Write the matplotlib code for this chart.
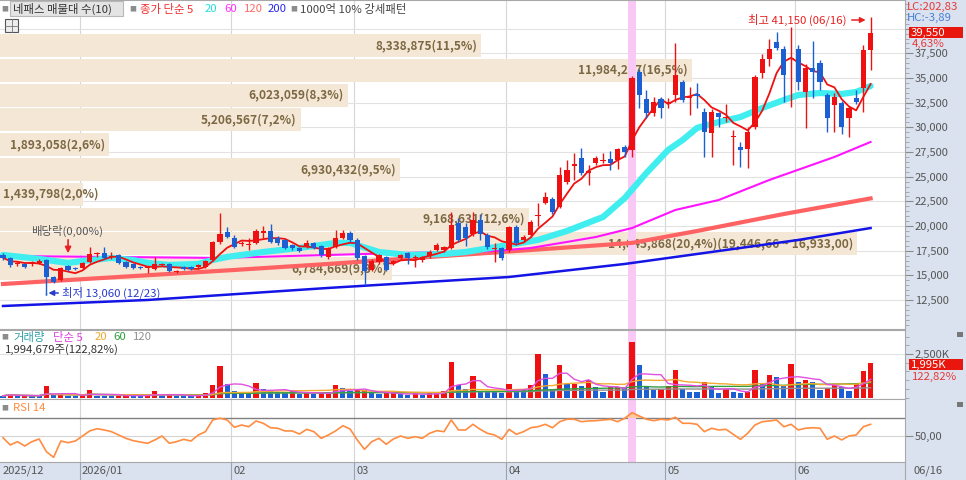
import numpy as np
import pandas as pd
import matplotlib
matplotlib.use('Agg')
import matplotlib.pyplot as plt
from matplotlib.patches import Rectangle
from matplotlib.lines import Line2D
from matplotlib.ticker import FuncFormatter, MultipleLocator

plt.rcParams['font.family'] = ['Noto Sans CJK KR', 'DejaVu Sans']

### Data ###

opens = [17100, 16770, 16150, 16150, 16150, 16300, 16560, 14840, 14540, 15950,
         15750, 15750, 16350, 17170, 17270, 16870, 17070, 16360, 16160, 15850,
         15750, 15650, 16050, 16150, 15350, 15850, 15850, 15850, 15850, 16560,
         18390, 19400, 18790, 18190, 18090, 18300, 19300, 19500, 18790, 18590,
         18090, 17780, 17980, 18290, 17980, 16870, 17880, 18790, 19300, 18590,
         16970, 15550, 16360, 16870, 16260, 16770, 17270, 16770, 16560, 16970,
         17580, 17580, 17780, 20310, 19900, 19200, 20610, 19100, 17680, 17780,
         17580, 19900, 18590, 19100, 21000, 22340, 22740, 21930, 24470, 26100,
         26900, 25380, 26400, 26590, 26800, 26700, 28000, 27700, 35600, 32870,
         31460, 32870, 32370, 33280, 34590, 32970, 33380, 31560, 29430, 31460,
         30950, 29020, 28010, 27810, 30040, 35510, 36920, 38650, 37940, 36900,
         37940, 33580, 36010, 36520, 33280, 32260, 32470, 30950, 32970, 33990,
         37800]
highs = [17300, 16900, 16500, 16250, 16500, 16700, 16700, 14950, 15850, 16100,
         15850, 16350, 17880, 17400, 17900, 17370, 17200, 16500, 16260, 15950,
         15950, 16870, 16300, 16250, 15550, 15950, 15950, 16200, 16600, 18500,
         21330, 19900, 19100, 18500, 18790, 19700, 20000, 20200, 19000, 18700,
         18200, 17900, 18600, 18400, 18100, 17900, 19600, 19600, 19500, 18800,
         17100, 16700, 17200, 17000, 16600, 17200, 17400, 17100, 17000, 17600,
         18300, 18000, 21430, 20800, 20300, 21400, 21200, 19300, 18290, 17900,
         20000, 20100, 19100, 20600, 22300, 23400, 22900, 25980, 26700, 27400,
         27900, 26200, 27100, 27400, 27600, 27900, 28200, 35200, 35900, 33800,
         33100, 33100, 33000, 38550, 34800, 34090, 34500, 32000, 31900, 31600,
         32400, 29730, 28500, 30000, 35300, 37400, 38950, 39660, 38200, 40170,
         38300, 36400, 38700, 36800, 33500, 33500, 32700, 32200, 33800, 38300,
         41150]
lows = [16600, 15900, 16000, 15700, 16000, 16200, 13060, 14200, 14400, 15400,
        15550, 15650, 16250, 16900, 16700, 16700, 16150, 15750, 15650, 15600,
        15200, 15550, 15950, 15350, 15250, 15550, 15550, 15750, 15750, 16450,
        18200, 18800, 17780, 18000, 17580, 18200, 18800, 18300, 18100, 17700,
        17600, 17380, 17800, 17700, 16900, 16700, 17780, 18700, 18400, 16600,
        14030, 15400, 16200, 15400, 16100, 16600, 16200, 15900, 16400, 16800,
        17450, 17400, 17700, 18400, 18000, 19000, 18600, 17700, 16360, 16600,
        17400, 18100, 18400, 18900, 20000, 22200, 21200, 21800, 24300, 24700,
        25200, 24200, 26200, 26400, 25700, 25800, 27000, 27000, 32000, 30900,
        31200, 30900, 32000, 32600, 32600, 31250, 32000, 27000, 27000, 30000,
        30500, 26190, 25980, 25900, 29800, 35000, 36200, 37800, 32600, 32060,
        33790, 29930, 33000, 33800, 29500, 29500, 29300, 29000, 32400, 31600,
        35810]
closes = [16800, 16060, 16300, 15850, 16350, 16450, 14840, 14330, 15750, 15550,
          15650, 16250, 17170, 17270, 16770, 16970, 16260, 15850, 15750, 15700,
          15850, 16150, 16150, 15450, 15450, 15650, 15650, 16060, 16460, 18390,
          19200, 18900, 17880, 18290, 18190, 19500, 19500, 18400, 18290, 17780,
          17780, 17480, 18290, 17780, 17070, 17780, 18790, 19300, 18590, 16770,
          15450, 16460, 17070, 15550, 16460, 17070, 16770, 16870, 16870, 17370,
          18090, 17880, 20110, 18590, 18790, 20610, 19200, 17880, 17780, 16770,
          19900, 18290, 18890, 20410, 21130, 22950, 21430, 25170, 25680, 26290,
          25380, 25580, 26900, 26700, 26390, 27800, 27500, 35000, 33280, 31460,
          32570, 31960, 32570, 35300, 32770, 33080, 33180, 29530, 31560, 31050,
          31050, 29120, 27710, 29530, 35100, 36920, 37940, 38040, 35300, 37020,
          34590, 36010, 35610, 34590, 30950, 33080, 30040, 31960, 32570, 37800,
          39550]

# volume, thousand shares
volumes = [110, 210, 95, 100, 95, 90, 663, 130, 160, 114,
           110, 150, 435, 120, 110, 100, 120, 150, 110, 100,
           115, 380, 120, 130, 110, 100, 95, 120, 280, 719,
           1800, 757, 380, 200, 190, 850, 490, 380, 300, 290,
           435, 200, 250, 240, 260, 270, 719, 530, 380, 420,
           430, 246, 200, 246, 250, 208, 151, 246, 151, 246,
           284, 379, 2045, 719, 492, 1250, 360, 345, 330, 246,
           757, 473, 435, 719, 2518, 1382, 492, 1855, 776, 790,
           663, 1041, 587, 303, 587, 600, 530, 3180, 1893, 587,
           435, 492, 663, 1571, 492, 341, 303, 871, 625, 246,
           473, 341, 246, 341, 1609, 814, 1325, 1193, 663, 1912,
           909, 1041, 871, 435, 530, 719, 587, 398, 776, 1514,
           1995]

rsi14 = [48.1, 40.0, 43.7, 38.9, 43.7, 46.7, 32.6, 26.3, 44.4, 42.6,
         44.4, 50.0, 55.6, 58.1, 56.7, 54.8, 51.1, 47.4, 44.8, 43.3,
         41.9, 45.6, 50.0, 41.9, 43.7, 46.3, 44.4, 51.1, 54.8, 67.8,
         69.7, 67.8, 59.7, 62.2, 60.3, 66.7, 64.1, 59.2, 58.6, 55.6,
         55.6, 52.2, 57.4, 54.8, 47.4, 51.1, 55.6, 61.4, 57.8, 45.6,
         35.2, 43.7, 47.4, 40.8, 46.7, 50.0, 47.4, 49.2, 47.4, 53.0,
         55.9, 54.8, 67.8, 56.7, 56.7, 63.0, 57.4, 53.0, 51.1, 46.3,
         57.4, 51.9, 54.8, 59.2, 60.3, 63.0, 59.2, 65.9, 68.6, 68.6,
         65.9, 66.7, 67.0, 67.8, 68.6, 65.9, 69.7, 75.9, 72.2, 68.6,
         67.0, 68.6, 67.8, 70.8, 64.1, 64.1, 63.0, 54.8, 58.6, 56.7,
         57.4, 51.9, 46.3, 53.0, 62.2, 65.9, 66.7, 67.8, 60.3, 63.0,
         56.7, 58.6, 59.2, 58.6, 46.3, 50.0, 45.6, 50.0, 51.1, 60.3,
         63.0]

# longer moving averages read at points along the lines (candle index, price)
ma20_idx = [0, 5, 9, 11, 15, 18, 20, 23, 27, 29, 31, 36, 41, 46, 48, 52, 56, 61, 64,
            69, 74, 78, 83, 86, 89, 92, 94, 96, 99, 102, 105, 108, 110, 113, 116, 118, 120]
ma20_val = [17070, 16670, 16260, 16460, 16770, 16560, 16260, 16060, 16160, 16560, 16870,
            17370, 17780, 18290, 18290, 17370, 17070, 17170, 17370, 17980, 18590, 19500,
            20920, 22840, 25380, 27710, 28720, 29940, 30540, 31050, 31960, 32770, 33280,
            33480, 33380, 33580, 34190]
ma60_idx = [0, 30, 45, 55, 68, 73, 78, 82, 87, 93, 99, 106, 115, 120]
ma60_val = [16970, 16770, 17070, 17270, 17470, 17780, 18390, 18890, 19800, 21630,
            22640, 24670, 27000, 28520]
ma120_idx = [0, 32, 45, 69, 87, 96, 108, 120]
ma120_val = [14130, 15550, 16160, 17370, 18290, 19500, 21220, 22800]
ma200_idx = [0, 20, 45, 70, 86, 96, 110, 120]
ma200_val = [11900, 12510, 13730, 14840, 16160, 17170, 18590, 19800]

# volume profile (매물대), from the lowest band up
band_volume = [6784669, 14845868, 9168631, 1439798, 6930432,
               1893058, 5206567, 6023059, 11984247, 8338875]
band_pct = [9.3, 20.4, 12.6, 2.0, 9.5, 2.6, 7.2, 8.3, 16.5, 11.5]
band_lo = 16933.00
band_hi = 19446.66

month_first = [11, 32, 49, 70, 92, 110]
month_labels = ['2026/01', '02', '03', '04', '05', '06']
exdiv_idx = 9
low_idx = 6
high_idx = 120
pink_idx = 87

### Layout helpers ###

W, H = 966, 480
PLOT_W = 905
STEP = 7.23
X0 = 3
UP, DOWN = '#ee1111', '#1c5fd2'


def fx(px):
    return px / W


def fy(py):
    return 1 - py / H


def py2price(py):
    return 35000 - (py - 78) / 0.00987


def px2idx(px):
    return (px - X0) / STEP


def ftext(x, y, s, **kw):
    kw.setdefault('fontsize', 8.2)
    fig.text(fx(x), fy(y), s, va='center', ha=kw.pop('ha', 'left'), **kw)


def frect(x, y, w, h, **kw):
    fig.add_artist(Rectangle((fx(x), fy(y + h)), w / W, h / H,
                             transform=fig.transFigure, **kw))


n = len(closes)
idx = np.arange(n)
o = np.array(opens)
hi = np.array(highs)
lo = np.array(lows)
c = np.array(closes)
vol = np.array(volumes)
rsi = np.array(rsi14)
xlim = (px2idx(0), px2idx(PLOT_W))

fig = plt.figure(figsize=(W / 100, H / 100), dpi=100, facecolor='#d9e2ee')

ax_p = fig.add_axes([0, fy(329), fx(PLOT_W), 329 / H])
ax_v = fig.add_axes([0, fy(399), fx(PLOT_W), 69 / H])
ax_r = fig.add_axes([0, fy(462), fx(PLOT_W), 63 / H])
ax_d = fig.add_axes([0, 0, fx(PLOT_W), 18 / H])

for ax in (ax_p, ax_v, ax_r):
    ax.set_facecolor('white')
    ax.set_xlim(xlim)
    ax.set_xticks([])
    ax.yaxis.tick_right()
    for s in ax.spines.values():
        s.set_color('#a8a8a8')
    ax.spines['left'].set_visible(False)
    for m in month_first:
        ax.axvline(m - 0.4, color='#d6d6d6', lw=0.8, zorder=0)
    ax.axvspan(pink_idx - 0.5, pink_idx + 0.5, color='#f9c8f4', lw=0, zorder=1.5)
    ax.tick_params(axis='y', which='major', length=6, color='#8a8a8a',
                   labelcolor='#555555', labelsize=8, pad=1)
    ax.tick_params(axis='y', which='minor', length=3, color='#a0a0a0')

### Price panel ###

ax_p.set_ylim(py2price(329), py2price(0))
levels = np.arange(12500, 40001, 2500)
for lvl in levels:
    ax_p.axhline(lvl, color='#e2e2e2', lw=0.8, zorder=0)

step = band_hi - band_lo
band_mid = [band_lo + (j - 1) * step + step / 2 for j in range(len(band_volume))]
band_w = np.array(band_volume) / max(band_volume) * 857 / STEP
ax_p.barh(band_mid, band_w, height=step * 0.93, left=xlim[0],
          color='#f5e7d6', lw=0, zorder=1)
for j in range(len(band_volume)):
    label = f'{band_volume[j]:,}({band_pct[j]:.1f}%)'.replace('.', ',')
    if j == 1:
        label += f'({band_hi:,.2f} ~ {band_lo:,.2f})'.replace('.', ',')
    end = xlim[0] + band_w[j]
    if band_w[j] * STEP < 100:
        ax_p.text(px2idx(3), band_mid[j], label, ha='left', va='center',
                  color='#7c6842', fontsize=8.6, fontweight='bold', zorder=1.2)
    else:
        ax_p.text(end - 4 / STEP, band_mid[j], label, ha='right', va='center',
                  color='#7c6842', fontsize=8.6, fontweight='bold', zorder=1.2)

ma5 = pd.Series(c).rolling(5, min_periods=1).mean()
ax_p.plot(ma200_idx, ma200_val, color='#1414e6', lw=1.8, zorder=2)
ax_p.plot(ma120_idx, ma120_val, color='#ff6262', lw=3, zorder=2.1)
ax_p.plot(ma60_idx, ma60_val, color='#ff14ff', lw=1.5, zorder=2.2)
ax_p.plot(ma20_idx, ma20_val, color='#40eef0', lw=4.5, solid_capstyle='round', zorder=2.3)
ax_p.plot(idx, ma5, color='#ee1111', lw=1.3, zorder=2.4)

col = np.where(c >= o, UP, DOWN)
ax_p.vlines(idx, lo, hi, colors=col, lw=1, zorder=4)
ax_p.bar(idx, np.maximum(np.abs(c - o), 70), bottom=np.minimum(o, c),
         width=0.72, color=col, lw=0, zorder=5)

# the 40,000 level sits under the last-price box, so it gets a tick but no label
ax_p.set_yticks(levels)
ax_p.yaxis.set_minor_locator(MultipleLocator(500))
ax_p.yaxis.set_major_formatter(
    FuncFormatter(lambda v, p: f'{int(v):,}' if v < 38000 else ''))

# annotations
ax_p.annotate('', xy=(exdiv_idx, py2price(256)), xytext=(exdiv_idx, py2price(237)),
              arrowprops=dict(arrowstyle='-|>', color='#e82020', lw=1.2,
                              mutation_scale=9), zorder=6)
ax_p.text(px2idx(31), py2price(231), '배당락(0,00%)', color='#555555',
          fontsize=8.2, va='center', zorder=6)
ax_p.annotate('', xy=(low_idx - 0.1, py2price(293)), xytext=(px2idx(61), py2price(293)),
              arrowprops=dict(arrowstyle='-|>', color='#2a3ccc', lw=1.1,
                              mutation_scale=8), zorder=6)
ax_p.vlines(low_idx, py2price(293), lows[low_idx], color=DOWN, lw=1, zorder=4)
ax_p.text(px2idx(62), py2price(293), f'최저 {lows[low_idx]:,} (12/23)',
          color='#2a3ccc', fontsize=8.2, va='center', zorder=6)
ax_p.text(px2idx(846), py2price(20), f'최고 {highs[high_idx]:,} (06/16)',
          color='#e82020', fontsize=8.2, va='center', ha='right', zorder=6)
ax_p.annotate('', xy=(high_idx - 0.3, py2price(20)), xytext=(px2idx(849), py2price(20)),
              arrowprops=dict(arrowstyle='-|>', color='#e82020', lw=1.1,
                              mutation_scale=8), zorder=6)

### Volume panel ###

vcol = [DOWN] + [UP if vol[i] >= vol[i - 1] else DOWN for i in range(1, n)]
ax_v.set_ylim(-74, 3873)
ax_v.axhline(2500, color='#e2e2e2', lw=0.8, zorder=0)
ax_v.bar(idx, vol, width=0.72, color=vcol, lw=0, zorder=3)
vs = pd.Series(vol)
for win, colr in [(120, '#909090'), (60, '#30a040'), (20, '#f2aa30'), (5, '#e050e0')]:
    ax_v.plot(idx, vs.rolling(win, min_periods=1).mean(), color=colr, lw=1, zorder=4)
ax_v.set_yticks([2500])
ax_v.yaxis.set_minor_locator(MultipleLocator(500))
ax_v.yaxis.set_major_formatter(FuncFormatter(lambda v, p: f'{int(v):,}K'))

### RSI panel ###

ax_r.set_ylim(21.1, 91.1)
ax_r.axhline(50, color='#d4d4d4', lw=0.8, zorder=0)
ax_r.axhline(70, color='#808080', lw=1, zorder=1)
ax_r.fill_between(idx, rsi, 70, where=rsi > 70, interpolate=True,
                  color='#ffc8a0', lw=0, zorder=2)
ax_r.plot(idx, rsi, color='#ff8c40', lw=1.2, zorder=3)
ax_r.set_yticks([50])
ax_r.yaxis.set_major_formatter(FuncFormatter(lambda v, p: f'{v:.2f}'.replace('.', ',')))

### Date strip ###

ax_d.set_xlim(xlim)
ax_d.set_ylim(0, 1)
ax_d.axis('off')
ax_d.vlines([m - 0.4 for m in month_first], 0, 1, color='#9aa4b0', lw=0.8)
ax_d.text(px2idx(3), 0.5, '2025/12', color='#555555', fontsize=8, va='center')
for m, lab in zip(month_first, month_labels):
    ax_d.text(m - 0.15, 0.5, lab, color='#555555', fontsize=8, va='center')
fig.add_artist(Line2D([fx(PLOT_W), fx(PLOT_W)], [0, fy(462)], color='#a8a8a8', lw=0.8))

### Figure texts ###

grey = '#8c8c8c'
ftext(1, 9, '■', color=grey, fontsize=5)
frect(10, 1, 113, 15, fc='#e4e4e4', ec='#b8b8b8', lw=0.8)
ftext(13, 9, '네패스 매물대 수(10)', color='#333333')
ftext(129, 9, '■', color=grey, fontsize=5)
ftext(140, 9, '종가 단순 5', color='#f03030')
ftext(205, 9, '20', color='#22dede')
ftext(224, 9, '60', color='#ff30ff')
ftext(244, 9, '120', color='#ff6a6a')
ftext(268, 9, '200', color='#2828f0')
ftext(290, 9, '■', color=grey, fontsize=5)
ftext(300, 9, '1000억 10% 강세패턴', color='#444444')
frect(5, 19, 13, 13, fc='#eeeeee', ec='#555555', lw=0.8)
fig.add_artist(Line2D([fx(5), fx(18)], [fy(25.5), fy(25.5)], color='#777777', lw=0.6))
fig.add_artist(Line2D([fx(11.5), fx(11.5)], [fy(19), fy(32)], color='#777777', lw=0.6))

ftext(1, 337, '■', color=grey, fontsize=5)
ftext(13, 337, '거래량', color='#2f9fa8')
ftext(53, 337, '단순 5', color='#e040e0')
ftext(95, 337, '20', color='#f0a830')
ftext(113, 337, '60', color='#30a040')
ftext(133, 337, '120', color='#909090')
ftext(5, 350, '1,994,679주(122,82%)', color='#333333')

ftext(1, 408, '■', color=grey, fontsize=5)
ftext(13, 408, 'RSI 14', color='#ff8c40')

ftext(907, 7, 'LC:202,83', color='#e83a3a')
ftext(907, 18, 'HC:-3,89', color='#4a7fd8')
frect(909, 27, 54, 11, fc='#e8160c', ec='none', zorder=5)
ftext(911, 32.5, f'{closes[-1]:,}', color='white', zorder=6)
ftext(912, 44, '4,63%', color='#e83a3a')
frect(909, 359, 54, 11, fc='#e8160c', ec='none', zorder=5)
ftext(911, 364.5, f'{volumes[-1]:,}K', color='white', zorder=6)
ftext(912, 377, '122,82%', color='#e83a3a')
frect(957, 332, 6, 5, fc='#777777', ec='none')
frect(957, 402, 6, 5, fc='#777777', ec='none')
ftext(913, 471, '06/16', color='#555555', fontsize=8)

fig.savefig('out.png', dpi=100, facecolor=fig.get_facecolor())
